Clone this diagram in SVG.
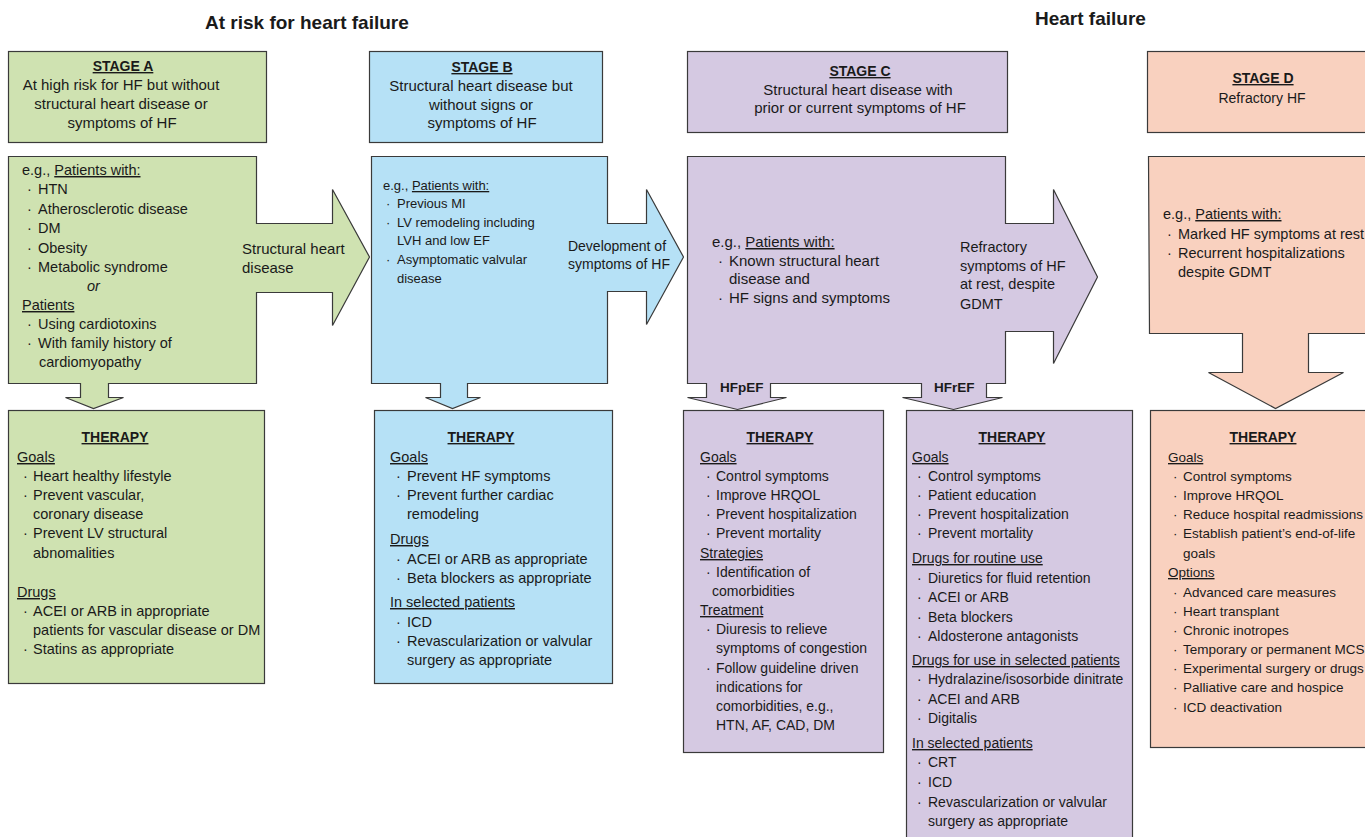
<svg xmlns="http://www.w3.org/2000/svg" width="1365" height="837" viewBox="0 0 1365 837">
<style>
text{font-family:"Liberation Sans",Arial,sans-serif;fill:#1a1a1a}
.sh{stroke:#3a3a3a;stroke-width:1.2;stroke-linejoin:miter}
.ga{fill:#cfe2b1}.gb{fill:#b6e1f6}.gc{fill:#d5c9e2}.gd{fill:#f9d1bf}
.h{font-weight:bold;font-size:14px;text-decoration:underline}
.ttl{font-weight:bold;font-size:19px}
.u{text-decoration:underline}
.f15{font-size:15px}.f145{font-size:14.5px}.f14{font-size:14px}.f135{font-size:13.5px}.f13{font-size:13px}
.m{text-anchor:middle}
.bl{font-weight:bold;font-size:13.5px}
</style>
<rect width="1365" height="837" fill="#ffffff"/>
<g id="titles">
<text class="ttl" x="205" y="29">At risk for heart failure</text>
<text class="ttl" x="1035" y="25">Heart failure</text>
</g>

<!-- STAGE A -->
<g id="stageA-header">
<rect class="sh ga" x="8.5" y="51.5" width="258" height="91"/>
<text class="h m" x="123" y="71">STAGE A</text>
<text class="f15 m" x="121" y="90">At high risk for HF but without</text>
<text class="f15 m" x="121" y="109">structural heart disease or</text>
<text class="f15 m" x="122" y="128">symptoms of HF</text>
</g>
<g id="stageA-patients">
<polygon class="sh ga" points="8.5,156.5 256.5,156.5 256.5,223.5 332.5,223.5 332.5,189.5 369.5,257 332.5,325.5 332.5,292.5 256.5,292.5 256.5,383.5 108.5,383.5 108.5,397.5 123.5,397.5 93.5,408.5 65.5,397.5 80.5,397.5 80.5,383.5 8.5,383.5"/>
<g class="f145">
<text x="22" y="175">e.g., <tspan class="u">Patients with:</tspan></text>
<text y="194"><tspan x="27">·</tspan><tspan x="38">HTN</tspan></text>
<text y="214"><tspan x="27">·</tspan><tspan x="38">Atherosclerotic disease</tspan></text>
<text y="233"><tspan x="27">·</tspan><tspan x="38">DM</tspan></text>
<text y="253"><tspan x="27">·</tspan><tspan x="38">Obesity</tspan></text>
<text y="272"><tspan x="27">·</tspan><tspan x="38">Metabolic syndrome</tspan></text>
<text x="87" y="291" font-style="italic">or</text>
<text x="22" y="310" class="u">Patients</text>
<text y="329"><tspan x="27">·</tspan><tspan x="38">Using cardiotoxins</tspan></text>
<text y="348"><tspan x="27">·</tspan><tspan x="38">With family history of</tspan></text>
<text x="39" y="367">cardiomyopathy</text>
</g>
</g>
<g id="stageA-therapy">
<rect class="sh ga" x="8.5" y="410.5" width="256" height="273"/>
<text class="h m" x="115" y="442">THERAPY</text>
<g class="f145">
<text x="17" y="462" class="u">Goals</text>
<text y="481"><tspan x="23">·</tspan><tspan x="33">Heart healthy lifestyle</tspan></text>
<text y="500"><tspan x="23">·</tspan><tspan x="33">Prevent vascular,</tspan></text>
<text x="33" y="519">coronary disease</text>
<text y="538"><tspan x="23">·</tspan><tspan x="33">Prevent LV structural</tspan></text>
<text x="33" y="558">abnomalities</text>
<text x="17" y="597" class="u">Drugs</text>
<text y="616"><tspan x="23">·</tspan><tspan x="33">ACEI or ARB in appropriate</tspan></text>
<text x="33" y="635">patients for vascular disease or DM</text>
<text y="654"><tspan x="23">·</tspan><tspan x="33">Statins as appropriate</tspan></text>
</g>
</g>

<!-- STAGE B -->
<g id="stageB-header">
<rect class="sh gb" x="369.5" y="51.5" width="233" height="91"/>
<text class="h m" x="482" y="72">STAGE B</text>
<text class="f15 m" x="481" y="91">Structural heart disease but</text>
<text class="f15 m" x="481" y="110">without signs or</text>
<text class="f15 m" x="482" y="128">symptoms of HF</text>
</g>
<g id="stageB-patients">
<polygon class="sh gb" points="371.5,156.5 607.5,156.5 607.5,223.5 646.5,223.5 646.5,189.5 683.5,257 646.5,324.5 646.5,291.5 607.5,291.5 607.5,383.5 467.5,383.5 467.5,397.5 480.5,397.5 452.5,408.5 425.5,397.5 440.5,397.5 440.5,383.5 371.5,383.5"/>
<g class="f13">
<text x="383" y="190">e.g., <tspan class="u">Patients with:</tspan></text>
<text y="208"><tspan x="386">·</tspan><tspan x="397">Previous MI</tspan></text>
<text y="227"><tspan x="386">·</tspan><tspan x="397">LV remodeling including</tspan></text>
<text x="397" y="245">LVH and low EF</text>
<text y="264"><tspan x="386">·</tspan><tspan x="397">Asymptomatic valvular</tspan></text>
<text x="397" y="283">disease</text>
</g>
</g>
<g id="stageB-therapy">
<rect class="sh gb" x="374.5" y="410.5" width="238" height="273"/>
<text class="h m" x="481" y="442">THERAPY</text>
<g class="f145">
<text x="390" y="462" class="u">Goals</text>
<text y="481"><tspan x="396">·</tspan><tspan x="407">Prevent HF symptoms</tspan></text>
<text y="500"><tspan x="396">·</tspan><tspan x="407">Prevent further cardiac</tspan></text>
<text x="407" y="519">remodeling</text>
<text x="390" y="544" class="u">Drugs</text>
<text y="564"><tspan x="396">·</tspan><tspan x="407">ACEI or ARB as appropriate</tspan></text>
<text y="583"><tspan x="396">·</tspan><tspan x="407">Beta blockers as appropriate</tspan></text>
<text x="390" y="607" class="u">In selected patients</text>
<text y="627"><tspan x="396">·</tspan><tspan x="407">ICD</tspan></text>
<text y="646"><tspan x="396">·</tspan><tspan x="407">Revascularization or valvular</tspan></text>
<text x="407" y="665">surgery as appropriate</text>
</g>
</g>

<!-- STAGE C -->
<g id="stageC-header">
<rect class="sh gc" x="687.5" y="51.5" width="320" height="81"/>
<text class="h m" x="860" y="76">STAGE C</text>
<text class="f15 m" x="858" y="95">Structural heart disease with</text>
<text class="f15 m" x="860" y="113">prior or current symptoms of HF</text>
</g>
<g id="stageC-patients">
<polygon class="sh gc" points="687.5,156.5 1005.5,156.5 1005.5,223.5 1053.5,223.5 1053.5,189.5 1097.5,277 1053.5,363.5 1053.5,331.5 1005.5,331.5 1005.5,383.5 986.5,383.5 986.5,397.5 1002.5,397.5 953.5,409.5 902.5,397.5 921.5,397.5 921.5,383.5 770.5,383.5 770.5,397.5 786.5,397.5 737.5,409.5 687.5,397.5 706.5,397.5 706.5,383.5 687.5,383.5"/>
<g class="f15">
<text x="712" y="247">e.g., <tspan class="u">Patients with:</tspan></text>
<text y="266"><tspan x="718">·</tspan><tspan x="729">Known structural heart</tspan></text>
<text x="729" y="284">disease and</text>
<text y="303"><tspan x="718">·</tspan><tspan x="729">HF signs and symptoms</tspan></text>
</g>
</g>
<g id="stageC-therapy-hfpef">
<rect class="sh gc" x="683.5" y="410.5" width="200" height="342"/>
<text class="h m" x="780" y="442">THERAPY</text>
<g class="f14">
<text x="700" y="462" class="u">Goals</text>
<text y="481"><tspan x="706">·</tspan><tspan x="716">Control symptoms</tspan></text>
<text y="500"><tspan x="706">·</tspan><tspan x="716">Improve HRQOL</tspan></text>
<text y="519"><tspan x="706">·</tspan><tspan x="716">Prevent hospitalization</tspan></text>
<text y="538"><tspan x="706">·</tspan><tspan x="716">Prevent mortality</tspan></text>
<text x="700" y="558" class="u">Strategies</text>
<text y="577"><tspan x="706">·</tspan><tspan x="716">Identification of</tspan></text>
<text x="712" y="596">comorbidities</text>
<text x="700" y="615" class="u">Treatment</text>
<text y="634"><tspan x="706">·</tspan><tspan x="716">Diuresis to relieve</tspan></text>
<text x="716" y="653">symptoms of congestion</text>
<text y="673"><tspan x="706">·</tspan><tspan x="716">Follow guideline driven</tspan></text>
<text x="716" y="692">indications for</text>
<text x="716" y="711">comorbidities, e.g.,</text>
<text x="716" y="730">HTN, AF, CAD, DM</text>
</g>
</g>
<g id="stageC-therapy-hfref">
<rect class="sh gc" x="906.5" y="410.5" width="226" height="440"/>
<text class="h m" x="1012" y="442">THERAPY</text>
<g class="f14">
<text x="912" y="462" class="u">Goals</text>
<text y="481"><tspan x="917">·</tspan><tspan x="928">Control symptoms</tspan></text>
<text y="500"><tspan x="917">·</tspan><tspan x="928">Patient education</tspan></text>
<text y="519"><tspan x="917">·</tspan><tspan x="928">Prevent hospitalization</tspan></text>
<text y="538"><tspan x="917">·</tspan><tspan x="928">Prevent mortality</tspan></text>
<text x="912" y="563" class="u">Drugs for routine use</text>
<text y="583"><tspan x="917">·</tspan><tspan x="928">Diuretics for fluid retention</tspan></text>
<text y="602"><tspan x="917">·</tspan><tspan x="928">ACEI or ARB</tspan></text>
<text y="622"><tspan x="917">·</tspan><tspan x="928">Beta blockers</tspan></text>
<text y="641"><tspan x="917">·</tspan><tspan x="928">Aldosterone antagonists</tspan></text>
<text x="912" y="665" class="u">Drugs for use in selected patients</text>
<text y="684"><tspan x="917">·</tspan><tspan x="928">Hydralazine/isosorbide dinitrate</tspan></text>
<text y="704"><tspan x="917">·</tspan><tspan x="928">ACEI and ARB</tspan></text>
<text y="723"><tspan x="917">·</tspan><tspan x="928">Digitalis</tspan></text>
<text x="912" y="748" class="u">In selected patients</text>
<text y="767"><tspan x="917">·</tspan><tspan x="928">CRT</tspan></text>
<text y="787"><tspan x="917">·</tspan><tspan x="928">ICD</tspan></text>
<text y="807"><tspan x="917">·</tspan><tspan x="928">Revascularization or valvular</tspan></text>
<text x="928" y="826">surgery as appropriate</text>
</g>
</g>

<!-- STAGE D -->
<g id="stageD-header">
<rect class="sh gd" x="1147.5" y="51.5" width="240" height="81"/>
<text class="h m" x="1263" y="83">STAGE D</text>
<text class="f14 m" x="1262" y="103">Refractory HF</text>
</g>
<g id="stageD-patients">
<polygon class="sh gd" points="1148.5,156.5 1390,156.5 1390,333.5 1308.5,333.5 1308.5,372.5 1343.5,372.5 1275.5,408.5 1208.5,372.5 1242.5,372.5 1242.5,333.5 1149.5,333.5"/>
<g class="f145">
<text x="1163" y="219">e.g., <tspan class="u">Patients with:</tspan></text>
<text y="239"><tspan x="1167">·</tspan><tspan x="1178">Marked HF symptoms at rest</tspan></text>
<text y="258"><tspan x="1167">·</tspan><tspan x="1178">Recurrent hospitalizations</tspan></text>
<text x="1178" y="277">despite GDMT</text>
</g>
</g>
<g id="stageD-therapy">
<rect class="sh gd" x="1150.5" y="410.5" width="240" height="337"/>
<text class="h m" x="1263" y="442">THERAPY</text>
<g class="f135">
<text x="1168" y="462" class="u">Goals</text>
<text y="481"><tspan x="1173">·</tspan><tspan x="1183">Control symptoms</tspan></text>
<text y="500"><tspan x="1173">·</tspan><tspan x="1183">Improve HRQOL</tspan></text>
<text y="519"><tspan x="1173">·</tspan><tspan x="1183">Reduce hospital readmissions</tspan></text>
<text y="538"><tspan x="1173">·</tspan><tspan x="1183">Establish patient’s end-of-life</tspan></text>
<text x="1183" y="558">goals</text>
<text x="1168" y="577" class="u">Options</text>
<text y="597"><tspan x="1173">·</tspan><tspan x="1183">Advanced care measures</tspan></text>
<text y="616"><tspan x="1173">·</tspan><tspan x="1183">Heart transplant</tspan></text>
<text y="635"><tspan x="1173">·</tspan><tspan x="1183">Chronic inotropes</tspan></text>
<text y="654"><tspan x="1173">·</tspan><tspan x="1183">Temporary or permanent MCS</tspan></text>
<text y="673"><tspan x="1173">·</tspan><tspan x="1183">Experimental surgery or drugs</tspan></text>
<text y="692"><tspan x="1173">·</tspan><tspan x="1183">Palliative care and hospice</tspan></text>
<text y="712"><tspan x="1173">·</tspan><tspan x="1183">ICD deactivation</tspan></text>
</g>
</g>

<g id="connectors">
<text class="f15" x="242" y="254">Structural heart</text>
<text class="f15" x="242" y="273">disease</text>
<text class="f14 m" x="617" y="251">Development of</text>
<text class="f14 m" x="619" y="269">symptoms of HF</text>
<text class="f145" x="960" y="252">Refractory</text>
<text class="f145" x="960" y="271">symptoms of HF</text>
<text class="f145" x="960" y="289">at rest, despite</text>
<text class="f145" x="960" y="309">GDMT</text>
<text class="bl" x="720" y="392">HFpEF</text>
<text class="bl" x="934" y="392">HFrEF</text>
</g>
</svg>
